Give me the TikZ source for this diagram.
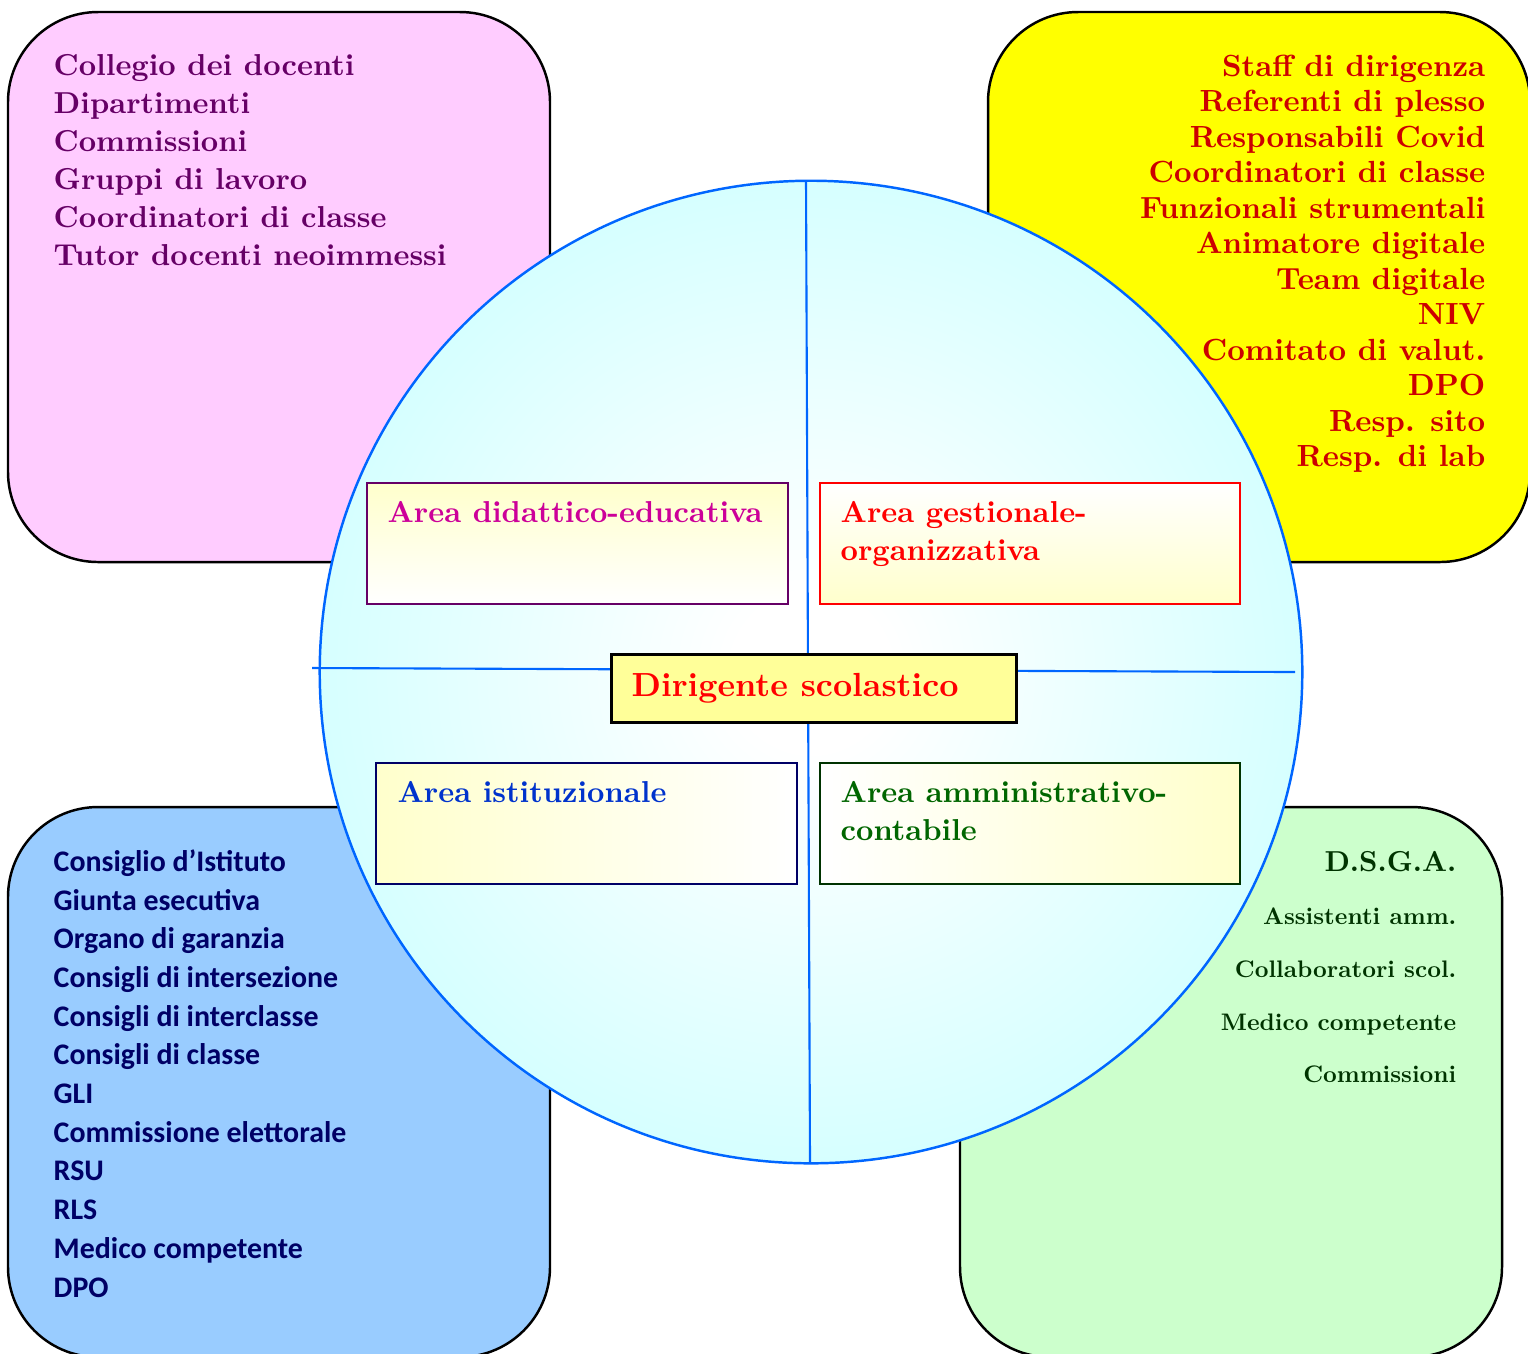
\documentclass[tikz,border=0pt]{standalone}
\usepackage{fontspec}
\setmainfont{lmroman10-regular.otf}[BoldFont=lmroman10-bold.otf]
\newfontfamily\calibri{Carlito}
\usetikzlibrary{positioning}

\definecolor{rosa}{HTML}{FFCCFF}
\definecolor{viola}{HTML}{660066}
\definecolor{giallo}{HTML}{FFFF00}
\definecolor{rossoscuro}{HTML}{CC0000}
\definecolor{azzurro}{HTML}{99CCFF}
\definecolor{blunotte}{HTML}{000066}
\definecolor{verdino}{HTML}{CCFFCC}
\definecolor{verdescuro}{HTML}{003300}
\definecolor{ciano}{HTML}{CCFFFF}
\definecolor{bordoblu}{HTML}{0066FF}
\definecolor{crema}{HTML}{FFFFCC}
\definecolor{paglia}{HTML}{FFFF99}
\definecolor{magenta}{HTML}{CC0099}
\definecolor{rosso}{HTML}{FF0000}
\definecolor{blu}{HTML}{0033CC}
\definecolor{verde}{HTML}{006600}

\pgfdeclareradialshading{sfera}{\pgfpoint{0bp}{0bp}}{color(0bp)=(white); color(4bp)=(white); color(30bp)=(ciano); color(50bp)=(ciano)}

\tikzset{
  quadro/.style={draw=black, line width=0.7pt, rounded corners=0.9cm},
  lista/.style={inner sep=0pt, font=\fontsize{8.6}{10.8}\selectfont\bfseries},
  area/.style={line width=0.7pt},
  titolo/.style={inner sep=0pt, anchor=north west, align=left, font=\fontsize{8.6}{10.8}\selectfont\bfseries},
  asse/.style={draw=bordoblu, line width=0.6pt}
}

\begin{document}
\begin{tikzpicture}[x=0.01cm,y=-0.01cm]
\useasboundingbox (0,0) rectangle (1528,1353);

% i quattro riquadri
\draw[quadro, fill=rosa] (8,12) rectangle (550,562);
\draw[quadro, fill=giallo] (988,12) rectangle (1530,562);
\draw[quadro, fill=azzurro] (8,807) rectangle (550,1357);
\draw[quadro, fill=verdino] (960,807) rectangle (1502,1357);

\node[lista, text=viola, anchor=north west, align=left] (docenti) at (53,54)
  {Collegio dei docenti\\ Dipartimenti\\ Commissioni\\ Gruppi di lavoro\\ Coordinatori di classe\\ Tutor docenti neoimmessi};

\node[lista, text=rossoscuro, anchor=north east, align=right,
      font=\fontsize{8.7}{10.1}\selectfont\bfseries] (staff) at (1486,54)
  {Staff di dirigenza\\ Referenti di plesso\\ Responsabili Covid\\ Coordinatori di classe\\ Funzionali strumentali\\ Animatore digitale\\ Team digitale\\ NIV\\ Comitato di valut.\\ DPO\\ Resp. sito\\ Resp. di lab};

\node[lista, text=blunotte, anchor=north west, align=left,
      font=\calibri\bfseries\fontsize{8.5}{11}\selectfont] (organi) at (53,849)
  {Consiglio d’Istituto\\ Giunta esecutiva\\ Organo di garanzia\\ Consigli di intersezione\\ Consigli di interclasse\\ Consigli di classe\\ GLI\\ Commissione elettorale\\ RSU\\ RLS\\ Medico competente\\ DPO};

\node[lista, text=verdescuro, anchor=north east, align=right,
      font=\fontsize{6.8}{15}\selectfont\bfseries] (dsga) at (1457,851)
  {{\fontsize{8.2}{15}\selectfont D.S.G.A.}\\ Assistenti amm.\\ Collaboratori scol.\\ Medico competente\\ Commissioni};

% cerchio centrale
\node[circle, draw=bordoblu, line width=0.7pt, shading=sfera, minimum size=9.82cm, inner sep=0pt] (sfera) at (811,672) {};
\coordinate (nord) at (806,180);
\coordinate (sud) at (810,1163);
\coordinate (ovest) at (312,668);
\coordinate (est) at (1295,672);
\draw[asse] (nord) -- (sud);
\draw[asse] (ovest) -- (est);

% aree
\draw[area, draw=viola, top color=crema, bottom color=white] (367,483) rectangle (788,604);
\node[titolo, text=magenta] (didattica) at (387,501) {Area didattico-educativa};

\draw[area, draw=rosso, top color=white, bottom color=crema, middle color=white!50!crema] (820,483) rectangle (1240,604);
\node[titolo, text=rosso] (gestione) at (840,501) {Area gestionale-\\organizzativa};

\draw[area, draw=blunotte, left color=crema, right color=white] (376,763) rectangle (797,884);
\node[titolo, text=blu] (istituto) at (397,781) {Area istituzionale};

\draw[area, draw=verdescuro, left color=white, right color=crema] (820,763) rectangle (1240,884);
\node[titolo, text=verde] (contabile) at (840,781) {Area amministrativo-\\contabile};

\node[draw=black, line width=0.8pt, fill=paglia, minimum width=4.05cm, minimum height=0.68cm, anchor=north west, inner sep=0pt] (dirigente) at (610,653) {};
\node[anchor=west, inner sep=0pt, text=rosso, font=\fontsize{9.5}{11}\selectfont\bfseries] (ds) at ([xshift=0.21cm]dirigente.west) {Dirigente scolastico};

\end{tikzpicture}
\end{document}
